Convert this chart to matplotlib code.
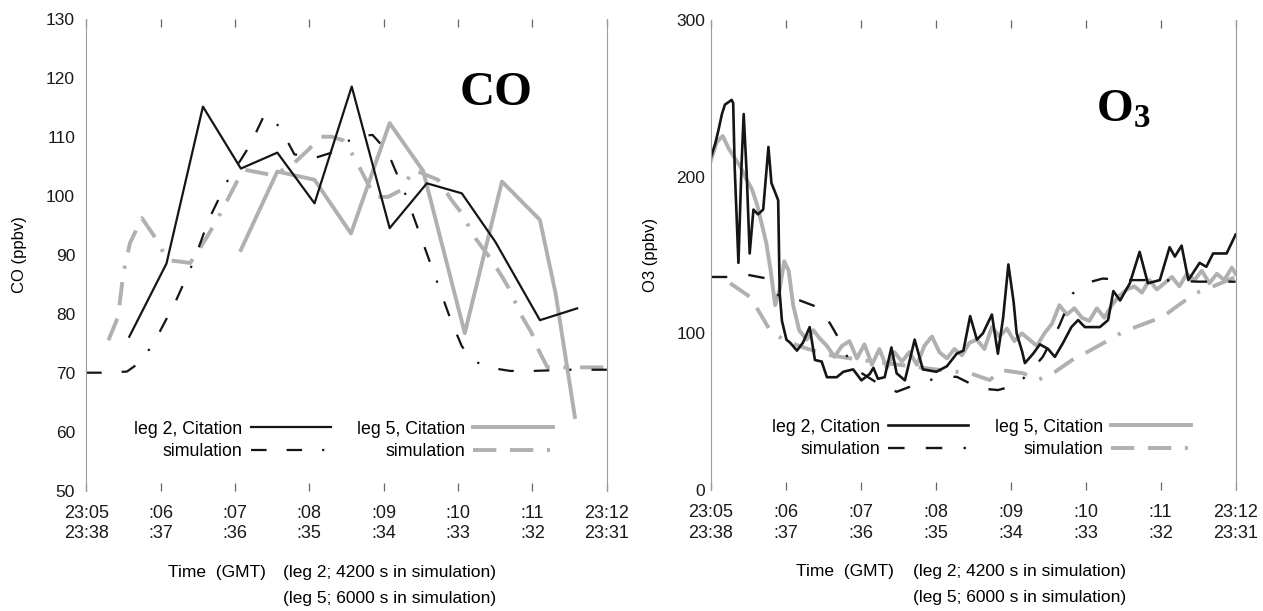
import matplotlib
matplotlib.use('Agg')
import matplotlib.pyplot as plt

plt.rcParams['font.family'] = ['Liberation Sans', 'DejaVu Sans']
plt.rcParams['mathtext.fontset'] = 'custom'
plt.rcParams['mathtext.bf'] = 'Liberation Serif:bold'
plt.rcParams['mathtext.rm'] = 'Liberation Serif:bold'

#---------------------------------------------------------
# data: time in minutes after 23:05 (leg 2) / 23:38 (leg 5)
#---------------------------------------------------------

minutes = [0, 1, 2, 3, 4, 5, 6, 7]
tick_labels = ['23:05\n23:38', ':06\n:37', ':07\n:36', ':08\n:35',
               ':09\n:34', ':10\n:33', ':11\n:32', '23:12\n23:31']

# CO (ppbv)
co_leg2_t = [0.58, 1.08, 1.57, 2.08, 2.57, 3.07, 3.57, 4.08, 4.58, 5.05, 5.5, 6.1, 6.6]
co_leg2 = [76.1, 88.5, 115.1, 104.6, 107.3, 98.7, 118.5, 94.5, 102.1, 100.4, 92.2, 78.9, 80.9]

co_sim2_t = [0.0, 0.3, 0.55, 0.75, 0.95, 1.2, 1.45, 1.65, 1.9, 2.2, 2.4, 2.6, 2.8, 3.1, 3.35,
             3.6, 3.85, 4.05, 4.3, 4.5, 4.7, 4.9, 5.05, 5.2, 5.45, 5.7, 6.0, 6.5, 7.0]
co_sim2 = [70.0, 70.0, 70.2, 72.0, 76.0, 82.0, 89.0, 96.0, 102.5, 108.5, 113.8, 111.7, 107.0, 106.5, 107.5,
           110.0, 110.3, 107.5, 100.0, 93.0, 86.0, 79.0, 74.5, 72.0, 70.8, 70.3, 70.3, 70.5, 70.5]

co_leg5_t = [2.08, 2.57, 3.07, 3.56, 4.08, 4.53, 5.09, 5.59, 6.1, 6.31, 6.57]
co_leg5 = [90.8, 104.1, 102.7, 93.6, 112.3, 104.2, 76.7, 102.4, 95.9, 83.5, 62.5]

co_sim5_t = [0.3, 0.43, 0.5, 0.59, 0.75, 0.95, 1.09, 1.4, 1.6, 1.76, 1.9, 2.04, 2.13, 2.5, 2.75,
             2.98, 3.16, 3.3, 3.45, 3.6, 3.74, 3.88, 4.06, 4.24, 4.4, 4.73, 4.91, 5.05, 5.22,
             5.45, 5.59, 5.72, 5.81, 5.99, 6.08, 6.2, 6.5, 7.0]
co_sim5 = [75.5, 79.5, 86.9, 92.0, 96.2, 92.5, 89.1, 88.6, 92.5, 95.9, 99.3, 102.7, 104.4, 103.5, 105.0,
           107.7, 110.0, 110.0, 109.4, 106.6, 103.2, 99.8, 99.8, 101.0, 104.4, 102.7, 99.3, 97.0, 93.0,
           89.1, 86.3, 83.5, 80.6, 76.7, 73.9, 70.9, 70.9, 70.9]

# O3 (ppbv)
o3_leg2_t = [0.0, 0.06, 0.1, 0.15, 0.19, 0.28, 0.3, 0.32, 0.37, 0.41, 0.44, 0.48, 0.52, 0.57, 0.63,
             0.7, 0.77, 0.81, 0.9, 0.92, 0.95, 1.01, 1.06, 1.15, 1.23, 1.32, 1.39, 1.48, 1.55, 1.68,
             1.77, 1.9, 2.01, 2.12, 2.17, 2.23, 2.32, 2.41, 2.48, 2.59, 2.72, 2.83, 3.01, 3.15, 3.28,
             3.37, 3.46, 3.55, 3.63, 3.75, 3.83, 3.9, 3.97, 4.04, 4.08, 4.15, 4.19, 4.3, 4.39, 4.5,
             4.59, 4.7, 4.81, 4.9, 4.99, 5.19, 5.3, 5.37, 5.46, 5.59, 5.72, 5.83, 5.99, 6.12, 6.19,
             6.28, 6.37, 6.52, 6.61, 6.7, 6.88, 6.97, 7.0]
o3_leg2 = [212, 221, 229, 240, 246, 249, 247, 206, 145, 206, 240, 202, 151, 179, 176,
           179, 219, 196, 185, 126, 108, 96, 94, 89, 94, 104, 83, 82, 72, 72,
           75.5, 77, 70, 74, 78, 71, 72, 91, 74.5, 70, 96, 77, 75.5, 79, 87,
           89, 111, 96, 100, 112, 87, 110, 144, 120, 100, 89, 81, 87, 93, 90,
           85, 94, 104, 108.5, 104, 104, 108.5, 127, 121, 132, 152, 132, 134, 155, 149,
           156, 134, 145, 142.5, 151, 151, 160, 163]

o3_sim2_t = [0.0, 0.23, 0.48, 0.75, 0.92, 1.19, 1.41, 1.59, 1.72, 1.83, 2.0, 2.2, 2.48, 2.66, 2.9,
             3.1, 3.28, 3.59, 3.83, 4.08, 4.26, 4.43, 4.65, 4.83, 4.99, 5.23, 5.48, 6.0, 6.5, 7.0]
o3_sim2 = [136, 136, 137.5, 135, 123, 121, 117, 106.5, 95.7, 84.2, 75, 69, 62.7, 66, 70,
           72, 72.3, 64.9, 63.8, 67, 75.5, 85.1, 105, 125.5, 131.9, 135, 134, 134, 133, 133]

o3_leg5_t = [0.0, 0.08, 0.16, 0.24, 0.32, 0.4, 0.48, 0.55, 0.62, 0.68, 0.74, 0.8, 0.86, 0.92, 0.98,
             1.04, 1.1, 1.18, 1.28, 1.37, 1.45, 1.55, 1.65, 1.75, 1.85, 1.95, 2.05, 2.15, 2.25, 2.35,
             2.45, 2.55, 2.65, 2.75, 2.85, 2.95, 3.05, 3.15, 3.25, 3.35, 3.45, 3.55, 3.65, 3.75, 3.85,
             3.95, 4.05, 4.15, 4.25, 4.35, 4.45, 4.55, 4.65, 4.75, 4.85, 4.95, 5.05, 5.15, 5.25, 5.35,
             5.45, 5.55, 5.65, 5.75, 5.85, 5.95, 6.05, 6.15, 6.25, 6.35, 6.45, 6.55, 6.65, 6.75, 6.85,
             6.95, 7.0]
o3_leg5 = [210, 222, 226, 218, 212, 206, 198, 192, 182, 170, 158, 140, 118, 128, 146,
           140, 118, 102, 96, 102, 97, 92, 85, 92, 95, 84, 93, 80, 90, 78,
           88, 82, 88, 80, 92, 98, 88, 84, 90, 86, 94, 96, 90, 104, 98,
           103, 95, 100, 96, 92, 100, 106, 118, 112, 116, 110, 108, 116, 110, 118,
           124, 128, 130, 126, 134, 128, 132, 136, 130, 138, 134, 140, 132, 138, 134,
           142, 138]

o3_sim5_t = [0.26, 0.52, 0.63, 0.79, 1.0, 1.3, 1.6, 2.0, 2.5, 3.0, 3.46, 3.72, 3.88, 4.17, 4.35,
             4.52, 4.88, 5.03, 5.35, 5.5, 6.03, 6.21, 6.46, 6.7, 7.0]
o3_sim5 = [132, 123.4, 115, 102, 95, 90, 86, 83, 80, 77, 74.5, 70.2, 76.6, 74.5, 70.2,
           73, 85, 88.3, 96.8, 101, 110.6, 117, 125.5, 130, 136]

#---------------------------------------------------------
# styles
#---------------------------------------------------------

BLACK = '#151515'
GRAY = '#b0b0b0'
black_dash = (7, 9, 7, 9, 1, 9)
gray_dash = (6, 3.5, 6, 3.5, 0.8, 3.5)

fig = plt.figure(figsize=(12.63, 6.11), dpi=100)
ax1 = fig.add_axes([0.0682, 0.1969, 0.4123, 0.7725])
ax2 = fig.add_axes([0.5627, 0.1980, 0.4156, 0.7692])


def style_axes(ax, ylim, yticks):
    ax.set_xlim(0, 7)
    ax.set_ylim(*ylim)
    ax.set_yticks(yticks)
    ax.set_xticks(minutes)
    ax.set_xticklabels(tick_labels, linespacing=1.3)
    for side in ('top', 'bottom'):
        ax.spines[side].set_visible(False)
    for side in ('left', 'right'):
        ax.spines[side].set_color('#9c9c9c')
        ax.spines[side].set_linewidth(0.8)
    ax.tick_params(axis='x', direction='in', length=6, width=0.9, color='#666666',
                   top=True, labelsize=13, pad=10, labelcolor='#1a1a1a')
    ax.tick_params(axis='y', length=0, labelsize=12.5, pad=8, labelcolor='#1a1a1a')


#---------------------------------------------------------
# CO panel
#---------------------------------------------------------

ax1.plot(co_leg5_t, co_leg5, color=GRAY, lw=2.8, label='leg 5, Citation')
ax1.plot(co_sim5_t, co_sim5, color=GRAY, lw=2.8, dashes=gray_dash, label='simulation')
ax1.plot(co_leg2_t, co_leg2, color=BLACK, lw=1.6, label='leg 2, Citation')
ax1.plot(co_sim2_t, co_sim2, color=BLACK, lw=1.6, dashes=black_dash, label='simulation')
style_axes(ax1, (50, 130), range(50, 131, 10))
ax1.set_ylabel('CO (ppbv)', fontsize=12)
ax1.yaxis.set_label_coords(-0.114, 0.5)
ax1.text(0.718, 0.817, 'CO', transform=ax1.transAxes, fontsize=35,
         family='Liberation Serif', weight='bold')

#---------------------------------------------------------
# O3 panel
#---------------------------------------------------------

ax2.plot(o3_leg5_t, o3_leg5, color=GRAY, lw=2.8, label='leg 5, Citation')
ax2.plot(o3_sim5_t, o3_sim5, color=GRAY, lw=2.8, dashes=gray_dash, label='simulation')
ax2.plot(o3_leg2_t, o3_leg2, color=BLACK, lw=1.9, label='leg 2, Citation')
ax2.plot(o3_sim2_t, o3_sim2, color=BLACK, lw=1.7, dashes=black_dash, label='simulation')
style_axes(ax2, (0, 300), [0, 100, 200, 300])
ax2.tick_params(axis='y', pad=4)
ax2.set_ylabel('O3 (ppbv)', fontsize=12)
ax2.yaxis.set_label_coords(-0.100, 0.5)
ax2.text(0.735, 0.783, r'$\mathbf{O_3}$', transform=ax2.transAxes, fontsize=34)

#---------------------------------------------------------
# legends and time captions
#---------------------------------------------------------

for ax, cx, cy in ((ax1, 0.495, 0.107), (ax2, 0.516, 0.110)):
    h, l = ax.get_legend_handles_labels()
    order = [2, 3, 0, 1]
    ax.legend([h[i] for i in order], [l[i] for i in order], ncol=2, markerfirst=False,
              frameon=False, loc='center', bbox_to_anchor=(cx, cy), borderpad=0,
              fontsize=12.8, handlelength=4.5, handletextpad=0.45, columnspacing=1.5,
              labelspacing=0.3)

for ax, x0, x1 in ((ax1, 0.157, 0.378), (ax2, 0.162, 0.385)):
    ax.text(x0, -0.174, 'Time  (GMT)', transform=ax.transAxes, fontsize=12.5, va='center')
    ax.text(x1, -0.174, '(leg 2; 4200 s in simulation)', transform=ax.transAxes,
            fontsize=12.5, va='center')
    ax.text(x1, -0.228, '(leg 5; 6000 s in simulation)', transform=ax.transAxes,
            fontsize=12.5, va='center')

plt.savefig('out.png', dpi=100)
